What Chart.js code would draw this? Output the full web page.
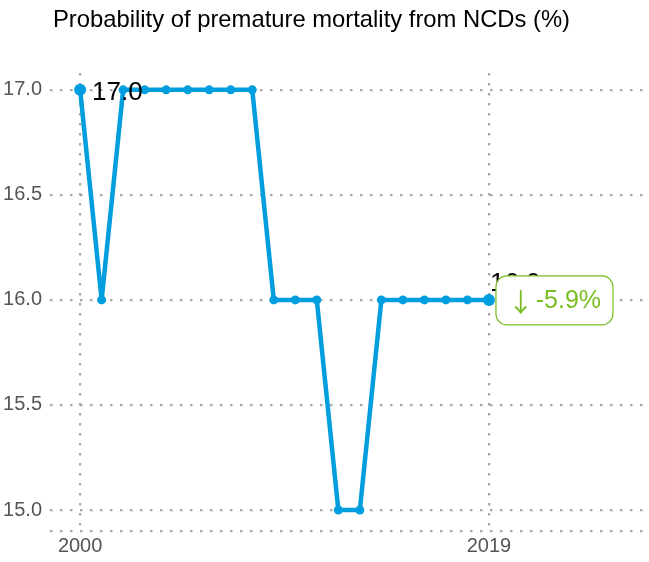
<!DOCTYPE html>
<html>
<head>
<meta charset="utf-8">
<script src="https://cdn.jsdelivr.net/npm/chart.js@4"></script>
<style>
  html, body { margin: 0; padding: 0; background: #fff; }
  #wrap { width: 649px; height: 562px; position: relative; }
</style>
</head>
<body>
<div id="wrap"><canvas id="myChart"></canvas></div>
<script>
'use strict'

// ********* DATA *********

let years = [2000, 2001, 2002, 2003, 2004, 2005, 2006, 2007, 2008, 2009,
  2010, 2011, 2012, 2013, 2014, 2015, 2016, 2017, 2018, 2019];
let mortality = [17, 16, 17, 17, 17, 17, 17, 17, 17, 16,
  16, 16, 15, 15, 16, 16, 16, 16, 16, 16];
let yTicks = [14.9, 15, 15.5, 16, 16.5, 17];
let xTicks = [2000, 2019];
let titleText = 'Probability of premature mortality from NCDs (%)';
let arrowText = '\u2193';
let changeText = '-5.9%';

let blue = '#009ede';
let green = '#78be20';
let gridGray = '#a8a8a8';
let fontFamily = '"Liberation Sans", Arial, sans-serif';

// ********* PLUGINS *********

// title drawn in the top left corner
let titlePlugin = {
  id: 'titleText',
  afterDraw(chart) {
    let c = chart.ctx;
    c.save();
    c.font = '23.8px ' + fontFamily;
    c.fillStyle = '#000';
    c.textBaseline = 'middle';
    c.textAlign = 'left';
    c.fillText(titleText, 53, 20);
    c.restore();
  }
};

// value labels on first and last point, plus the change box
let labelPlugin = {
  id: 'pointLabels',
  afterDatasetsDraw(chart) {
    let c = chart.ctx;
    let pts = chart.getDatasetMeta(0).data;
    let first = pts[0];
    let last = pts[pts.length - 1];
    c.save();
    c.font = '26px ' + fontFamily;
    c.fillStyle = '#000';
    c.textBaseline = 'middle';
    c.textAlign = 'left';
    c.fillText(mortality[0].toFixed(1), first.x + 12, first.y + 3);
    c.fillText(mortality[mortality.length - 1].toFixed(1), last.x + 1, last.y - 16);

    // change box
    let bx = last.x + 7, by = last.y - 24, bw = 117, bh = 49;
    c.beginPath();
    c.roundRect(bx, by, bw, bh, 11);
    c.fillStyle = '#fff';
    c.fill();
    c.lineWidth = 1.2;
    c.strokeStyle = green;
    c.stroke();

    // arrow + percent, centred together
    c.fillStyle = green;
    c.font = '26px "Noto Sans CJK SC", "DejaVu Sans", sans-serif';
    let aw = c.measureText(arrowText).width;
    c.font = '25px ' + fontFamily;
    let tw = c.measureText(changeText).width;
    let gap = 2;
    let sx = bx + (bw - aw - gap - tw) / 2;
    c.font = '26px "Noto Sans CJK SC", "DejaVu Sans", sans-serif';
    c.fillText(arrowText, sx, by + bh / 2 + 2);
    c.font = '25px ' + fontFamily;
    c.fillText(changeText, sx + aw + gap, by + bh / 2 + 1);
    c.restore();
  }
};

// ********* CHART *********

let ctx = document.getElementById('myChart');

new Chart(ctx, {
  type: 'line',
  data: {
    datasets: [{
      data: years.map((y, i) => ({ x: y, y: mortality[i] })),
      borderColor: blue,
      backgroundColor: blue,
      borderWidth: 4.5,
      borderJoinStyle: 'round',
      borderCapStyle: 'round',
      pointRadius: mortality.map((v, i) => (i === 0 || i === mortality.length - 1) ? 6 : 4.5),
      pointBorderWidth: 0,
      tension: 0
    }]
  },
  options: {
    responsive: true,
    maintainAspectRatio: false,
    animation: false,
    layout: { padding: { top: 73, right: 4, left: 0, bottom: 0 } },
    plugins: {
      legend: { display: false },
      tooltip: { enabled: false }
    },
    scales: {
      x: {
        type: 'linear',
        min: 1998.6,
        max: 2026.16,
        afterBuildTicks: (s) => { s.ticks = xTicks.map(v => ({ value: v })); },
        afterFit: (s) => { s.height = 31; },
        ticks: {
          color: '#555',
          font: { size: 20, family: fontFamily },
          padding: 3,
          maxRotation: 0,
          callback: (v) => String(v)
        },
        grid: {
          color: gridGray,
          lineWidth: 2.2,
          drawTicks: false
        },
        border: { display: false, dash: [2.5, 7.5] }
      },
      y: {
        min: 14.9,
        max: 17.08,
        afterBuildTicks: (s) => { s.ticks = yTicks.map(v => ({ value: v })); },
        afterFit: (s) => { s.width = 50; },
        ticks: {
          color: '#555',
          font: { size: 20, family: fontFamily },
          padding: 8,
          callback: (v) => v < 15 ? '' : v.toFixed(1)
        },
        grid: {
          color: gridGray,
          lineWidth: 2.2,
          drawTicks: false
        },
        border: { display: false, dash: [2.5, 7.5] }
      }
    }
  },
  plugins: [titlePlugin, labelPlugin]
});
</script>
</body>
</html>
